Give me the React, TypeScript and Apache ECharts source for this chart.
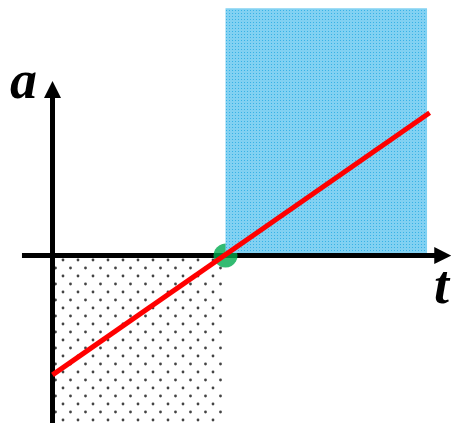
import React, { useEffect, useRef } from "react";
import * as echarts from "echarts";

// units: t (time) and a (acceleration); origin at crossing of axes
const axisSegments: number[][] = [
  [-0.353, 0, 4.61, 0], // t axis: [t0, a0, t1, a1]
  [0, -1.95, 0, 2.017], // a axis
];
const negativeArea: number[][] = [[0, 0, 2, -1.95]]; // [t0, a0, t1, a1]
const positiveArea: number[][] = [[2, 0.029, 4.33, 2.86]];
const accelLine: number[][] = [
  [0, -1.38],
  [4.36, 1.65],
];
const zeroPoint: number[][] = [[2, 0]];
const axisNames = ["a", "t"];

const T_MIN = -0.607;
const T_MAX = 4.607;
const A_MIN = -1.936;
const A_MAX = 2.954;

function makeDotPattern(): HTMLCanvasElement {
  const c = document.createElement("canvas");
  c.width = 15;
  c.height = 16;
  const ctx = c.getContext("2d")!;
  ctx.fillStyle = "#ffffff";
  ctx.fillRect(0, 0, 15, 16);
  ctx.fillStyle = "#444444";
  ctx.beginPath();
  ctx.arc(3, 4, 1.4, 0, Math.PI * 2);
  ctx.fill();
  ctx.beginPath();
  ctx.arc(10.5, 12, 1.4, 0, Math.PI * 2);
  ctx.fill();
  return c;
}

function makeBluePattern(): HTMLCanvasElement {
  const c = document.createElement("canvas");
  c.width = 3;
  c.height = 3;
  const ctx = c.getContext("2d")!;
  ctx.fillStyle = "#82d1f2";
  ctx.fillRect(0, 0, 3, 3);
  ctx.fillStyle = "#38b2e6";
  ctx.fillRect(1, 1, 1, 1);
  return c;
}

function makeRectRender(fill: any) {
  return (params: any, api: any) => {
    const p0 = api.coord([api.value(0), api.value(1)]);
    const p1 = api.coord([api.value(2), api.value(3)]);
    const x = Math.min(p0[0], p1[0]);
    const y = Math.min(p0[1], p1[1]);
    return {
      type: "rect",
      shape: { x, y, width: Math.abs(p1[0] - p0[0]), height: Math.abs(p1[1] - p0[1]) },
      style: { fill },
    };
  };
}

function arrowRender(params: any, api: any) {
  const p1 = api.coord([api.value(0), api.value(1)]);
  const p2 = api.coord([api.value(2), api.value(3)]);
  const dx = p2[0] - p1[0];
  const dy = p2[1] - p1[1];
  const len = Math.hypot(dx, dy) || 1;
  const ux = dx / len;
  const uy = dy / len;
  const headLen = 17;
  const half = 8.5;
  const bx = p2[0] - ux * headLen;
  const by = p2[1] - uy * headLen;
  return {
    type: "group",
    children: [
      {
        type: "line",
        shape: { x1: p1[0], y1: p1[1], x2: bx + ux * 3, y2: by + uy * 3 },
        style: { stroke: "#000", lineWidth: 5 },
      },
      {
        type: "polygon",
        shape: {
          points: [
            [p2[0], p2[1]],
            [bx - uy * half, by + ux * half],
            [bx + uy * half, by - ux * half],
          ],
        },
        style: { fill: "#000" },
      },
    ],
  };
}

export default function App() {
  const ref = useRef<HTMLDivElement>(null);
  useEffect(() => {
    if (!ref.current) return;
    const chart = echarts.init(ref.current, null, { renderer: "svg" });
    const labelFont = '"Liberation Serif", "Times New Roman", serif';
    const dotFill = { image: makeDotPattern(), repeat: "repeat" };
    const blueFill = { image: makeBluePattern(), repeat: "repeat" };
    chart.setOption({
      animation: false,
      backgroundColor: "#fff",
      grid: { left: 0, right: 0, top: 0, bottom: 0, containLabel: false },
      xAxis: { type: "value", min: T_MIN, max: T_MAX, show: false },
      yAxis: { type: "value", min: A_MIN, max: A_MAX, show: false },
      graphic: [
        {
          type: "text",
          left: 10,
          top: 53,
          style: {
            text: axisNames[0],
            font: `italic bold 54px ${labelFont}`,
            fill: "#000",
          },
          z: 100,
        },
        {
          type: "text",
          left: 434,
          top: 258,
          style: {
            text: axisNames[1],
            font: `italic bold 54px ${labelFont}`,
            fill: "#000",
          },
          z: 100,
        },
      ],
      series: [
        {
          type: "custom",
          z: 1,
          data: negativeArea,
          renderItem: makeRectRender(dotFill),
        },
        {
          type: "custom",
          z: 2,
          data: axisSegments,
          renderItem: arrowRender,
        },
        {
          type: "scatter",
          z: 3,
          data: zeroPoint,
          symbolSize: 24,
          itemStyle: { color: "#00aa4f" },
        },
        {
          type: "custom",
          z: 4,
          data: positiveArea,
          renderItem: makeRectRender(blueFill),
        },
        {
          type: "line",
          z: 5,
          data: accelLine,
          showSymbol: false,
          symbol: "none",
          lineStyle: { color: "#ff0000", width: 5 },
        },
      ],
    });
    return () => chart.dispose();
  }, []);
  return (
    <div
      ref={ref}
      style={{ position: "absolute", left: 0, top: 0, width: 451, height: 423 }}
    />
  );
}
